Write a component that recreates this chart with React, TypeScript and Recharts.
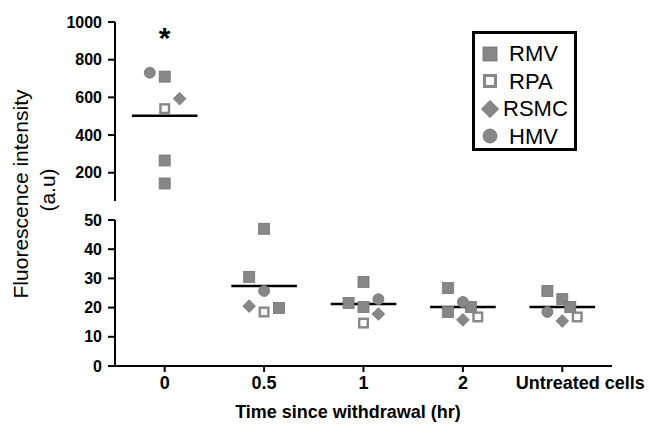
import React from 'react';
import { ScatterChart, Scatter, XAxis, YAxis, ReferenceLine, ReferenceDot } from 'recharts';

const groups = ['0', '0.5', '1', '2', 'Untreated cells'];
const groupTicks = [0, 1, 2, 3, 4];

// x = group index plus a little horizontal jitter, y = fluorescence (a.u)
const rmv = [
  { x: 0, y: 710 }, { x: 0, y: 265 }, { x: 0, y: 143 },
  { x: 1, y: 47 }, { x: 0.85, y: 30.5 }, { x: 1.15, y: 19.9 },
  { x: 2, y: 28.8 }, { x: 1.85, y: 21.6 }, { x: 2, y: 20.2 },
  { x: 2.85, y: 26.7 }, { x: 2.85, y: 18.5 }, { x: 3.08, y: 20.2 },
  { x: 3.85, y: 25.7 }, { x: 4, y: 22.9 }, { x: 4.08, y: 20.2 },
];
const rpa = [
  { x: 0, y: 540 }, { x: 1, y: 18.5 }, { x: 2, y: 14.7 }, { x: 3.15, y: 16.8 }, { x: 4.15, y: 16.8 },
];
const rsmc = [
  { x: 0.15, y: 593 }, { x: 0.85, y: 20.5 }, { x: 2.15, y: 17.8 }, { x: 3, y: 15.8 }, { x: 4, y: 15.4 },
];
const hmv = [
  { x: -0.15, y: 731 }, { x: 1, y: 25.7 }, { x: 2.15, y: 22.9 }, { x: 3, y: 21.9 }, { x: 3.85, y: 18.5 },
];
const groupMeans = [503, 27.4, 21.2, 20.2, 20.2];

const topTicks = [200, 400, 600, 800, 1000];
const bottomTicks = [0, 10, 20, 30, 40, 50];
const BREAK = 50;
const STAR_Y = 948;

const FONT = 'Arial, "Liberation Sans", Helvetica, sans-serif';
const FILL = '#878787';
const EDGE = '#727272';

type Kind = 'square' | 'open' | 'diamond' | 'circle';

const series: { name: string; kind: Kind; data: { x: number; y: number }[] }[] = [
  { name: 'RMV', kind: 'square', data: rmv },
  { name: 'RPA', kind: 'open', data: rpa },
  { name: 'RSMC', kind: 'diamond', data: rsmc },
  { name: 'HMV', kind: 'circle', data: hmv },
];

function Marker({ cx, cy, kind, s }: { cx: number; cy: number; kind: Kind; s: number }) {
  const h = s / 2;
  if (kind === 'square') {
    return <rect x={cx - h} y={cy - h} width={s} height={s} fill={FILL} stroke={EDGE} strokeWidth={0.8} />;
  }
  if (kind === 'open') {
    const w = s * 0.22;
    return (
      <rect x={cx - h + w / 2} y={cy - h + w / 2} width={s - w} height={s - w} fill="#fff" stroke={FILL} strokeWidth={w} />
    );
  }
  if (kind === 'diamond') {
    const d = h * 1.15;
    return (
      <polygon
        points={`${cx},${cy - d} ${cx + d},${cy} ${cx},${cy + d} ${cx - d},${cy}`}
        fill={FILL}
        stroke={EDGE}
        strokeWidth={0.8}
      />
    );
  }
  return <circle cx={cx} cy={cy} r={h} fill={FILL} stroke={EDGE} strokeWidth={0.8} />;
}

const yTickStyle = { fill: '#000', fontSize: 16, fontWeight: 700, fontFamily: FONT };
const axisStroke = { stroke: '#000', strokeWidth: 2 };

// category labels under the time axis; the last, long one sits a bit to the right
function GroupTick({ x, y, payload }: any) {
  const last = payload.value === groupTicks[groupTicks.length - 1];
  return (
    <text
      x={x + (last ? 18 : 0)}
      y={y}
      dy={13}
      textAnchor="middle"
      fill="#000"
      fontSize={18}
      fontWeight={700}
      fontFamily={FONT}
    >
      {groups[payload.value]}
    </text>
  );
}

function LegendBox() {
  return (
    <div
      style={{
        position: 'absolute',
        left: 472,
        top: 31,
        boxSizing: 'border-box',
        width: 105,
        height: 120,
        border: '3.5px solid #000',
        padding: '6px 0 0 4px',
        background: '#fff',
        fontFamily: FONT,
        fontSize: 22,
        lineHeight: '27.5px',
      }}
    >
      {series.map((s) => (
        <div key={s.name} style={{ display: 'flex', alignItems: 'center' }}>
          <svg width={26} height={22} style={{ flex: 'none' }}>
            <Marker cx={11} cy={11} kind={s.kind} s={s.kind === 'diamond' ? 15 : 14} />
          </svg>
          <span style={{ marginLeft: s.kind === 'diamond' ? -2 : 4 }}>{s.name}</span>
        </div>
      ))}
    </div>
  );
}

const W = 649;
const H = 425;

export default function App() {
  const means = groupMeans.map((m, i) => ({ i, m }));
  return (
    <div style={{ position: 'absolute', left: 0, top: 0, width: W, height: H, background: '#fff' }}>
      {/* upper panel: 50 – 1000 */}
      <div style={{ position: 'absolute', left: 0, top: 0 }}>
        <ScatterChart width={W} height={H} margin={{ top: 22, right: 37, bottom: H - 201, left: 0 }}>
          <XAxis type="number" dataKey="x" domain={[-0.5, 4.5]} hide />
          <YAxis
            type="number"
            dataKey="y"
            width={115}
            domain={[BREAK, 1000]}
            ticks={topTicks}
            allowDataOverflow
            tick={yTickStyle}
            axisLine={axisStroke}
            tickLine={axisStroke}
            tickSize={7}
            tickMargin={6}
          />
          {means
            .filter((g) => g.m > BREAK)
            .map((g) => (
              <ReferenceLine
                key={g.i}
                segment={[{ x: g.i - 0.33, y: g.m }, { x: g.i + 0.33, y: g.m }]}
                stroke="#000"
                strokeWidth={2.5}
              />
            ))}
          {series.map((s) => (
            <Scatter
              key={s.name}
              name={s.name}
              data={s.data.filter((d) => d.y > BREAK)}
              isAnimationActive={false}
              shape={(p: any) => <Marker cx={p.cx} cy={p.cy} kind={s.kind} s={11} />}
            />
          ))}
          <ReferenceDot
            x={0}
            y={STAR_Y}
            r={0}
            shape={(p: any) => (
              <text x={p.cx} y={p.cy} textAnchor="middle" dominantBaseline="central" dy={6} fontSize={30} fontWeight={700} fontFamily={FONT}>
                *
              </text>
            )}
          />
        </ScatterChart>
      </div>

      {/* lower panel: 0 – 50 */}
      <div style={{ position: 'absolute', left: 0, top: 0 }}>
        <ScatterChart width={W} height={H} margin={{ top: 220, right: 37, bottom: H - 366 - 30, left: 0 }}>
          <XAxis
            type="number"
            dataKey="x"
            domain={[-0.5, 4.5]}
            ticks={groupTicks}
            interval={0}
            height={30}
            tick={<GroupTick />}
            axisLine={axisStroke}
            tickLine={axisStroke}
            tickSize={6}
            tickMargin={4}
          />
          <YAxis
            type="number"
            dataKey="y"
            width={115}
            domain={[0, BREAK]}
            ticks={bottomTicks}
            tick={yTickStyle}
            axisLine={axisStroke}
            tickLine={axisStroke}
            tickSize={7}
            tickMargin={6}
          />
          {means
            .filter((g) => g.m <= BREAK)
            .map((g) => (
              <ReferenceLine
                key={g.i}
                segment={[{ x: g.i - 0.33, y: g.m }, { x: g.i + 0.33, y: g.m }]}
                stroke="#000"
                strokeWidth={2.5}
              />
            ))}
          {series.map((s) => (
            <Scatter
              key={s.name}
              name={s.name}
              data={s.data.filter((d) => d.y <= BREAK)}
              isAnimationActive={false}
              shape={(p: any) => <Marker cx={p.cx} cy={p.cy} kind={s.kind} s={11} />}
            />
          ))}
        </ScatterChart>
      </div>

      <LegendBox />

      {/* axis titles */}
      <svg width={W} height={H} style={{ position: 'absolute', left: 0, top: 0, pointerEvents: 'none' }}>
        <g fontFamily={FONT} fill="#000">
          <text transform="translate(20,194) rotate(-90)" textAnchor="middle" dominantBaseline="central" fontSize={21}>
            Fluorescence intensity
          </text>
          <text transform="translate(47,190) rotate(-90)" textAnchor="middle" dominantBaseline="central" fontSize={21}>
            (a.u)
          </text>
          <text x={348} y={412} textAnchor="middle" dominantBaseline="central" fontSize={18} fontWeight={700}>
            Time since withdrawal (hr)
          </text>
        </g>
      </svg>
    </div>
  );
}
